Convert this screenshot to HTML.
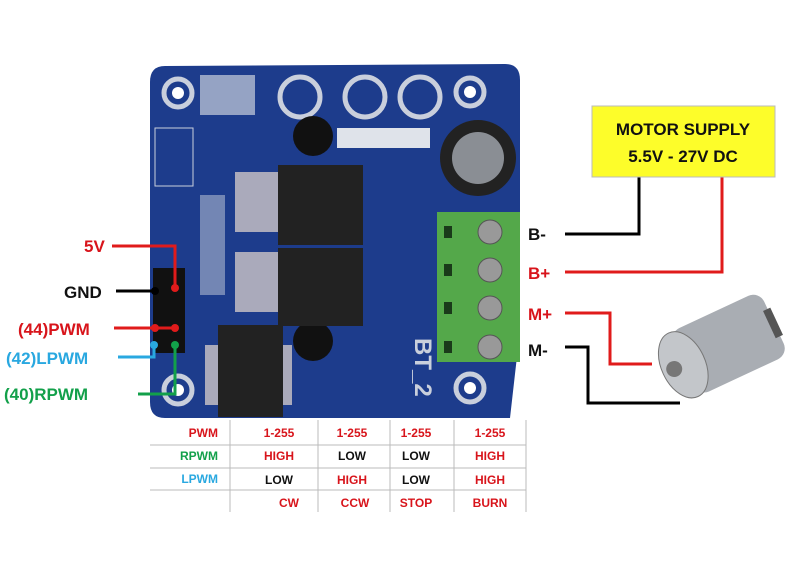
<!DOCTYPE html>
<html><head><style>
body{margin:0;background:#fff;width:800px;height:572px;overflow:hidden}
svg text{font-family:"Liberation Sans",sans-serif;font-weight:bold}
</style></head><body>
<svg width="800" height="572" viewBox="0 0 800 572" xmlns="http://www.w3.org/2000/svg">
<rect width="800" height="572" fill="#fff"/>
<path d="M165 66 L505 64 Q520 64 520 80 L520 330 L510 418 L165 418 Q150 418 150 402 L150 82 Q150 66 165 66Z" fill="#1d3c8c"/>
<g fill="none" stroke="#c9cfdc" stroke-width="5">
<circle cx="178" cy="93" r="14"/><circle cx="470" cy="92" r="14"/><circle cx="178" cy="390" r="14"/><circle cx="470" cy="388" r="14"/>
<circle cx="300" cy="97" r="20"/><circle cx="365" cy="97" r="20"/><circle cx="420" cy="97" r="20"/>
</g>
<g fill="#fff"><circle cx="178" cy="93" r="6"/><circle cx="470" cy="92" r="6"/><circle cx="178" cy="390" r="6"/><circle cx="470" cy="388" r="6"/></g>
<rect x="200" y="75" width="55" height="40" fill="#c9cfdc" opacity="0.7"/>
<rect x="337" y="128" width="93" height="20" fill="#dfe3ea"/>
<circle cx="478" cy="158" r="38" fill="#222"/><circle cx="478" cy="158" r="26" fill="#8a8e94"/>
<circle cx="313" cy="136" r="20" fill="#111"/><circle cx="313" cy="341" r="20" fill="#111"/>
<g fill="#aab"><rect x="235" y="172" width="50" height="60"/><rect x="235" y="252" width="50" height="60"/><rect x="205" y="345" width="15" height="60"/><rect x="280" y="345" width="12" height="60"/></g>
<rect x="278" y="165" width="85" height="80" fill="#222"/><rect x="278" y="248" width="85" height="78" fill="#222"/>
<rect x="218" y="325" width="65" height="92" fill="#222"/>
<rect x="200" y="195" width="25" height="100" fill="#c9cfdc" opacity="0.5"/>
<rect x="155" y="128" width="38" height="58" fill="none" stroke="#c9cfdc"/>
<rect x="153" y="268" width="32" height="85" fill="#111"/>
<rect x="437" y="212" width="83" height="150" fill="#54a84a"/>
<g fill="#999" stroke="#555"><circle cx="490" cy="232" r="12"/><circle cx="490" cy="270" r="12"/><circle cx="490" cy="308" r="12"/><circle cx="490" cy="347" r="12"/></g>
<g fill="#1a3a1a"><rect x="444" y="226" width="8" height="12"/><rect x="444" y="264" width="8" height="12"/><rect x="444" y="302" width="8" height="12"/><rect x="444" y="341" width="8" height="12"/></g>
<text x="415" y="338" fill="#c9cfdc" font-size="24" transform="rotate(90 415 338)">BT_2</text>
<g fill="none" stroke-width="3">
<polyline points="112,246 175,246 175,288" stroke="#e01b1b"/>
<polyline points="116,291 155,291" stroke="#000"/>
<polyline points="114,328 175,328" stroke="#e01b1b"/>
<polyline points="118,357 154,357 154,345" stroke="#29a8e0"/>
<polyline points="138,394 175,394 175,345" stroke="#12a04a"/>
</g>
<g><circle cx="175" cy="288" r="4" fill="#e01b1b"/><circle cx="155" cy="291" r="4" fill="#000"/><circle cx="155" cy="328" r="4" fill="#e01b1b"/><circle cx="175" cy="328" r="4" fill="#e01b1b"/><circle cx="154" cy="345" r="4" fill="#29a8e0"/><circle cx="175" cy="345" r="4" fill="#12a04a"/></g>
<g font-size="17">
<text x="84" y="252" fill="#d8141b">5V</text>
<text x="64" y="298" fill="#111">GND</text>
<text x="18" y="335" fill="#d8141b">(44)PWM</text>
<text x="6" y="364" fill="#29a8e0">(42)LPWM</text>
<text x="4" y="400" fill="#12a04a">(40)RPWM</text>
<text x="528" y="240" fill="#111">B-</text>
<text x="528" y="279" fill="#d8141b">B+</text>
<text x="528" y="320" fill="#d8141b">M+</text>
<text x="528" y="356" fill="#111">M-</text>
</g>
<g fill="none" stroke-width="3">
<polyline points="565,234 639,234 639,177" stroke="#000"/>
<polyline points="565,272 722,272 722,177" stroke="#e01b1b"/>
<polyline points="565,313 610,313 610,364 652,364" stroke="#e01b1b"/>
<polyline points="565,347 588,347 588,403 680,403" stroke="#000"/>
</g>
<rect x="592" y="106" width="183" height="71" fill="#fdfd2a" stroke="#bbb"/>
<text x="683" y="135" font-size="17" text-anchor="middle" fill="#111">MOTOR SUPPLY</text>
<text x="683" y="162" font-size="17" text-anchor="middle" fill="#111">5.5V - 27V DC</text>
<g transform="rotate(-25 715 350)">
<rect x="680" y="315" width="100" height="70" rx="12" fill="#a9adb3"/>
<ellipse cx="680" cy="350" rx="22" ry="35" fill="#c3c6ca" stroke="#777"/>
<circle cx="670" cy="350" r="8" fill="#777"/>
<rect x="775" y="335" width="8" height="30" fill="#555"/>
</g>
<g stroke="#bbb" stroke-width="1">
<line x1="150" y1="445" x2="526" y2="445"/><line x1="150" y1="468" x2="526" y2="468"/><line x1="150" y1="490" x2="526" y2="490"/>
<line x1="230" y1="420" x2="230" y2="512"/><line x1="318" y1="420" x2="318" y2="512"/><line x1="390" y1="420" x2="390" y2="512"/><line x1="454" y1="420" x2="454" y2="512"/><line x1="526" y1="420" x2="526" y2="512"/>
</g>
<g font-size="12">
<text x="218" y="437" text-anchor="end" fill="#d8141b">PWM</text>
<text x="218" y="460" text-anchor="end" fill="#12a04a">RPWM</text>
<text x="218" y="483" text-anchor="end" fill="#29a8e0">LPWM</text>
</g>
<g font-size="12" text-anchor="middle">
<text x="279" y="437" fill="#d8141b">1-255</text><text x="352" y="437" fill="#d8141b">1-255</text><text x="416" y="437" fill="#d8141b">1-255</text><text x="490" y="437" fill="#d8141b">1-255</text>
<text x="279" y="460" fill="#d8141b">HIGH</text><text x="352" y="460" fill="#111">LOW</text><text x="416" y="460" fill="#111">LOW</text><text x="490" y="460" fill="#d8141b">HIGH</text>
<text x="279" y="484" fill="#111">LOW</text><text x="352" y="484" fill="#d8141b">HIGH</text><text x="416" y="484" fill="#111">LOW</text><text x="490" y="484" fill="#d8141b">HIGH</text>
<text x="289" y="507" fill="#d8141b">CW</text><text x="355" y="507" fill="#d8141b">CCW</text><text x="416" y="507" fill="#d8141b">STOP</text><text x="490" y="507" fill="#d8141b">BURN</text>
</g>
</svg>
</body></html>
